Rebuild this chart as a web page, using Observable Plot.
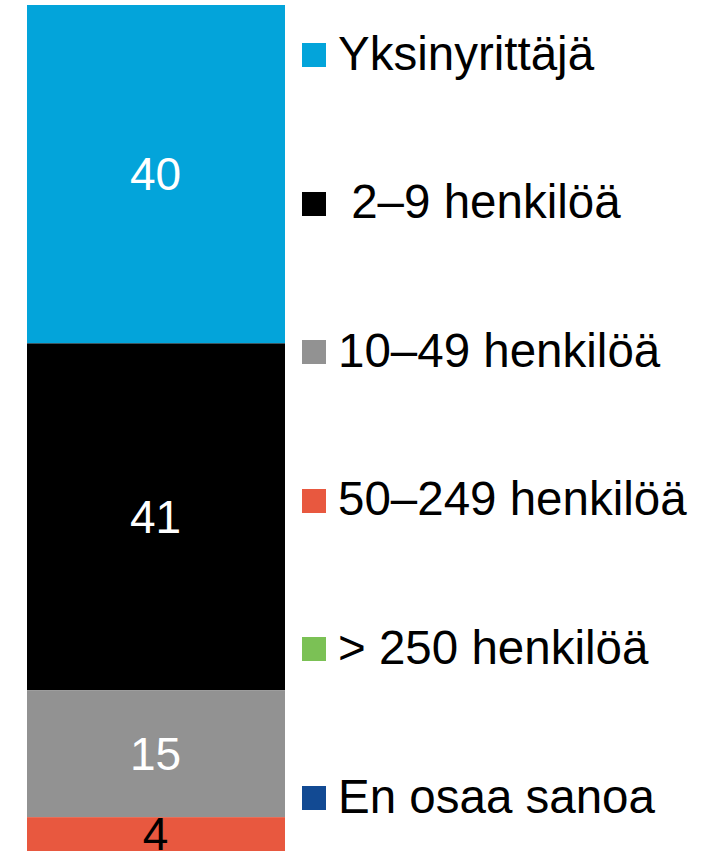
<!DOCTYPE html>
<html>
<head>
<meta charset="utf-8">
<script src="https://cdn.jsdelivr.net/npm/d3@7"></script>
<script src="https://cdn.jsdelivr.net/npm/@observablehq/plot@0.6"></script>
<style>
  html, body { margin: 0; padding: 0; background: #fff; }
  #wrap { position: relative; width: 713px; height: 851px; overflow: hidden; font-family: "Liberation Sans", Arial, sans-serif; }
  #chart { position: absolute; left: 0; top: 0; }
  .leg { position: absolute; display: flex; align-items: center; font-size: 47.5px; color: #000; white-space: pre; }
  .sw { width: 24px; height: 24px; margin-right: 12px; flex: none; }
</style>
</head>
<body>
<div id="wrap"><div id="chart"></div></div>
<script>
const categories = ["Yksinyrittäjä", " 2–9 henkilöä", "10–49 henkilöä", "50–249 henkilöä", "> 250 henkilöä", "En osaa sanoa"];
const values = [40, 41, 15, 4, 0, 0];
const colors = ["#03A4DA", "#000000", "#929292", "#E8583F", "#7BC155", "#124A93"];
const labelColors = ["#ffffff", "#ffffff", "#ffffff", "#000000", "#000000", "#ffffff"];

const data = categories.map((c, i) => ({group: "all", category: c, value: values[i], labelColor: labelColors[i]}));

const chart = Plot.plot({
  width: 286,
  height: 851,
  marginLeft: 27,
  marginRight: 1,
  marginTop: 5,
  marginBottom: 0,
  style: {fontFamily: "Liberation Sans, Arial, sans-serif", background: "transparent"},
  x: {domain: ["all"], padding: 0, axis: null},
  y: {domain: [0, 100], reverse: true, axis: null},
  color: {domain: categories, range: colors},
  marks: [
    Plot.barY(data, {x: "group", y: "value", fill: "category", order: categories}),
    Plot.text(data.filter(d => d.value > 0), Plot.stackY({
      x: "group", y: "value", z: "category", order: categories,
      text: d => String(d.value), fill: "labelColor", fontSize: 46, dx: -1, dy: 1
    }))
  ]
});
document.getElementById("chart").appendChild(chart);

const legendY = d3.scalePoint().domain(categories).range([55, 798]);
const wrap = document.getElementById("wrap");
categories.forEach((c, i) => {
  const row = document.createElement("div");
  row.className = "leg";
  row.style.left = "302px";
  row.style.top = (legendY(c) - 28) + "px";
  row.style.height = "56px";
  const sw = document.createElement("div");
  sw.className = "sw";
  sw.style.background = colors[i];
  const tx = document.createElement("span");
  tx.textContent = c;
  tx.style.position = "relative";
  tx.style.top = "-2px";
  row.appendChild(sw);
  row.appendChild(tx);
  wrap.appendChild(row);
});
</script>
</body>
</html>
